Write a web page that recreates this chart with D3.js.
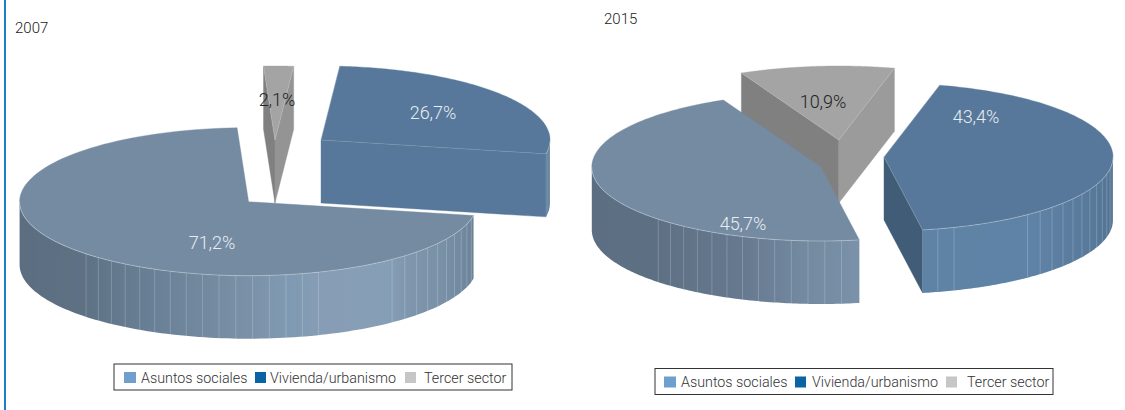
<!DOCTYPE html>
<html><head><meta charset="utf-8">
<script src="https://cdn.jsdelivr.net/npm/d3@7"></script>
<style>html,body{margin:0;padding:0;background:#fff}svg{display:block}text{font-family:Roboto,"Liberation Sans",Arial,sans-serif;font-weight:300}</style>
</head><body><svg id="c" width="1125" height="410"></svg>
<script>
// --- data ---
const categories = ["Asuntos sociales", "Vivienda/urbanismo", "Tercer sector"];
const years = ["2007", "2015"];
const values2007 = [71.2, 26.7, 2.1];
const values2015 = [45.7, 43.4, 10.9];
const labels2007 = ["71,2%", "26,7%", "2,1%"];
const labels2015 = ["45,7%", "43,4%", "10,9%"];

// --- layout and style ---
const RX = 229, RY = 74, DEPTH = 63;
const pieOrder = [0, 2, 1];           // clockwise order of the slices
const drawOrder = [2, 0, 1];
const legendColors = ["#6f9fcc", "#0a64a4", "#c6c6c6"];
const topColors = ["#748ba2", "#57789a", "#a4a4a4"];
const labelColors = ["#e8edf2", "#e8edf2", "#222"];
const panels = [
  { id: "a", year: years[0], values: values2007, labels: labels2007, start: 100.8,
    titleX: 15, titleY: 33,
    centers: [[248.6, 201.7], [321, 140], [275, 140]],
    labelPos: [[212, 243], [433, 113], [277, 100]],
    cutEnd: ["#000", "#57789a", "#949494"], cutStart: ["#000", "#000", "#808080"],
    sides: [
      { a: [101, 120, 135, 143, 160, 170, 180, 200, 226, 270],
        c: ["#6a8298", "#7890a6", "#7e95ac", "#859fb7", "#879db5", "#7f9ab3", "#7a91a8", "#6c8399", "#5e7184", "#5a6e80"] },
      { a: [90, 101], c: ["#5d7d9d", "#5d7d9d"] }, null],
    legend: { x: 114, y: 364, w: 398, h: 26 },
    legendItems: [[124, 141], [255, 270], [405, 424]] },
  { id: "b", year: years[1], values: values2015, labels: labels2015, start: 170.3,
    titleX: 604, titleY: 24,
    centers: [[820.8, 167], [884, 157], [838.8, 140]],
    labelPos: [[743, 224], [976, 117], [823, 102]],
    cutEnd: ["#000", "#415c76", "#9b9b9b"], cutStart: ["#000", "#000", "#808080"],
    sides: [
      { a: [170, 185, 200, 226, 270], c: ["#7a92aa", "#72899f", "#66798f", "#5d7083", "#5c6f82"] },
      { a: [90, 105, 125, 140, 170], c: ["#4e6e8e", "#557696", "#5a7c9e", "#5f83a6", "#5f83a5"] }, null],
    legend: { x: 655, y: 368.5, w: 398, h: 26 },
    legendItems: [[664, 681], [795, 812], [946, 967]] }
];
const ribAngles = d3.range(95, 228, 4.2).filter(a => a < 143 || a > 161);

const svg = d3.select("#c");
const defs = svg.append("defs");
const rad = d => d * Math.PI / 180;
const line = d3.line();

// blue rule on the left
svg.append("line").attr("x1", 5).attr("x2", 5).attr("y1", 0).attr("y2", 410)
   .attr("stroke", "#1b7fc6").attr("stroke-width", 2);

panels.forEach(p => {
  const g = svg.append("g");
  const rows = p.values.map((v, i) => ({ v, i }));
  const pie = d3.pie().value(d => d.v)
    .sort((a, b) => pieOrder.indexOf(a.i) - pieOrder.indexOf(b.i))
    .startAngle(rad(p.start)).endAngle(rad(p.start + 360));
  const arcs = pie(rows);

  const slices = drawOrder.map(i => arcs.find(a => a.data.i === i));
  slices.forEach(s => {
    const i = s.data.i, [cx, cy] = p.centers[i];
    let a0 = s.startAngle * 180 / Math.PI, a1 = s.endAngle * 180 / Math.PI;
    if (a0 >= 360) { a0 -= 360; a1 -= 360; }
    const X = a => cx + RX * Math.sin(rad(a));
    const Y = (a, d = 0) => cy - RY * Math.cos(rad(a)) + d;
    const sg = g.append("g");

    // cut faces
    const face = (a, col) => sg.append("path")
      .attr("d", line([[cx, cy], [X(a), Y(a)], [X(a), Y(a, DEPTH)], [cx, cy + DEPTH]]) + "Z")
      .attr("fill", col).attr("stroke", col).attr("stroke-width", .4);
    if (Math.sin(rad(a0)) < 0) face(a0, p.cutStart[i]);
    if (Math.sin(rad(a1)) > 0) face(a1, p.cutEnd[i]);

    // outer wall (visible front half only)
    const side = p.sides[i];
    let frontPts = null;
    if (side) {
      const b0 = Math.max(a0, 90), b1 = Math.min(a1, 270);
      if (b1 > b0) {
        const color = d3.scaleLinear().domain(side.a).range(side.c).interpolate(d3.interpolateRgb).clamp(true);
        const gid = `wall-${p.id}-${i}`;
        // x falls as the angle grows from 90 to 270, so stops are listed from right to left
        const grad = defs.append("linearGradient").attr("id", gid).attr("gradientUnits", "userSpaceOnUse")
          .attr("x1", X(b1)).attr("x2", X(b0)).attr("y1", 0).attr("y2", 0);
        const span = X(b0) - X(b1);
        d3.range(0, 41).map(k => b1 + (b0 - b1) * k / 40).forEach(a => {
          grad.append("stop").attr("offset", (X(a) - X(b1)) / span).attr("stop-color", color(a));
        });
        const n = 120;
        const upper = d3.range(n + 1).map(k => { const a = b0 + (b1 - b0) * k / n; return [X(a), Y(a)]; });
        const lower = d3.range(n, -1, -1).map(k => { const a = b0 + (b1 - b0) * k / n; return [X(a), Y(a, DEPTH)]; });
        sg.append("path").attr("d", line([...upper, ...lower]) + "Z").attr("fill", `url(#${gid})`);
        ribAngles.filter(r => r > b0 + 1 && r < b1 - 1).forEach(r => {
          sg.append("line").attr("x1", X(r)).attr("x2", X(r)).attr("y1", Y(r)).attr("y2", Y(r, DEPTH))
            .attr("stroke", "#fff").attr("stroke-opacity", .25).attr("stroke-width", .8);
        });
        frontPts = upper;
      }
    }

    // top face
    const pts = d3.range(0, 121).map(k => { const a = a0 + (a1 - a0) * k / 120; return [X(a), Y(a)]; });
    sg.append("path").attr("d", line([[cx, cy], ...pts]) + "Z")
      .attr("fill", topColors[i]).attr("stroke", topColors[i]).attr("stroke-width", .4);
    if (frontPts) sg.append("path").attr("d", line(frontPts)).attr("fill", "none")
      .attr("stroke", "#fff").attr("stroke-opacity", .45).attr("stroke-width", .7);
    sg.append("path").attr("d", line([[X(a0), Y(a0)], [cx, cy], [X(a1), Y(a1)]])).attr("fill", "none")
      .attr("stroke", "#fff").attr("stroke-opacity", Math.sin(rad(a1)) > 0 ? .2 : 0).attr("stroke-width", .7);
  });

  // value labels
  p.values.forEach((v, i) => {
    g.append("text").attr("x", p.labelPos[i][0]).attr("y", p.labelPos[i][1] + 6)
      .attr("text-anchor", "middle").attr("font-size", 18).attr("fill", labelColors[i]).text(p.labels[i]);
  });

  // year
  g.append("text").attr("x", p.titleX).attr("y", p.titleY).attr("font-size", 15).attr("fill", "#222").text(p.year);

  // legend
  const L = p.legend;
  g.append("rect").attr("x", L.x).attr("y", L.y).attr("width", L.w).attr("height", L.h)
    .attr("fill", "#fff").attr("stroke", "#333").attr("stroke-width", 1);
  categories.forEach((c, i) => {
    const [sx, tx] = p.legendItems[i];
    g.append("rect").attr("x", sx).attr("y", L.y + 8).attr("width", i === 0 ? 12 : 11).attr("height", 11).attr("fill", legendColors[i]);
    g.append("text").attr("x", tx).attr("y", L.y + 18.5).attr("font-size", 14.3).attr("fill", "#333").text(c);
  });
});
</script></body></html>
